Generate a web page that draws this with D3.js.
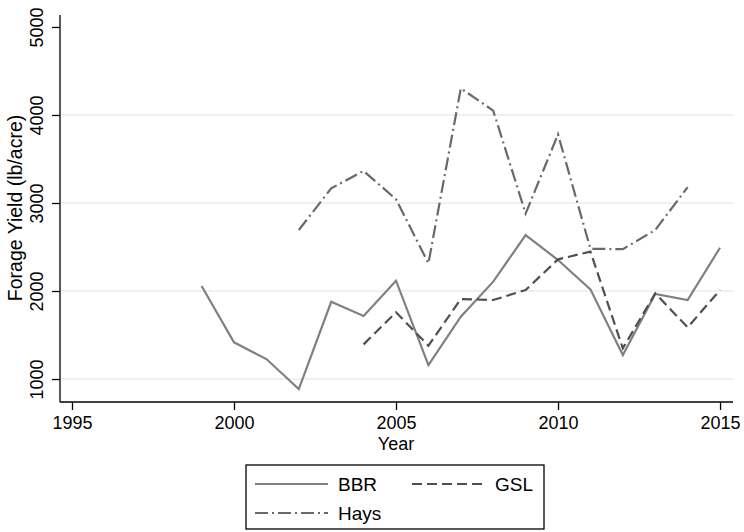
<!DOCTYPE html>
<html>
<head>
<meta charset="utf-8">
<script src="https://cdn.jsdelivr.net/npm/d3@7"></script>
<style>
  body { margin: 0; background: #fff; }
  svg { display: block; font-family: "Liberation Sans", Arial, sans-serif; }
</style>
</head>
<body>
<svg class="chart" width="744" height="532"></svg>
<script>
// Forage yield by year for three sites
const years = [1999, 2000, 2001, 2002, 2003, 2004, 2005, 2006, 2007, 2008,
               2009, 2010, 2011, 2012, 2013, 2014, 2015];
const bbr  = [2057, 1417, 1227, 886, 1878, 1716, 2117, 1159, 1708, 2106,
              2636, 2352, 2019, 1273, 1966, 1898, 2492];
const gsl  = [null, null, null, null, null, 1394, 1758, 1379, 1909, 1898,
              2011, 2360, 2447, 1349, 1973, 1587, 2011];
const hays = [null, null, null, 2693, 3167, 3364, 3042, 2315, 4303, 4050,
              2880, 3780, 2480, 2475, 2693, 3180, null];

const xTicks = [1995, 2000, 2005, 2010, 2015];
const yTicks = [1000, 2000, 3000, 4000, 5000];

const seriesInfo = [
    {name: "BBR",  values: bbr,  color: "#808080", dash: null},
    {name: "GSL",  values: gsl,  color: "#4f4f4f", dash: "10,5"},
    {name: "Hays", values: hays, color: "#696969", dash: "13,4,2,4"}
];

const svg = d3.select(".chart");

const plotLeft = 60, plotRight = 733, plotTop = 15, plotBottom = 402;

var xScale = d3.scaleLinear()
    .domain([1994.63, 2015.4])
    .range([plotLeft, plotRight]);

var yScale = d3.scaleLinear()
    .domain([739, 5136])
    .range([plotBottom, plotTop]);

/**** Grid lines ****/
svg.append("g")
    .selectAll("line")
    .data(yTicks.filter(function(d) { return d < 5000; }))
    .enter()
    .append("line")
    .attr("x1", plotLeft)
    .attr("x2", plotRight)
    .attr("y1", function(d) { return yScale(d); })
    .attr("y2", function(d) { return yScale(d); })
    .style("stroke", "#ebebeb")
    .style("stroke-width", 1.5);

/**** Lines ****/
var line = d3.line()
    .defined(function(d) { return d[1] != null; })
    .x(function(d) { return xScale(d[0]); })
    .y(function(d) { return yScale(d[1]); });

seriesInfo.forEach(function(s) {
    svg.append("path")
        .datum(years.map(function(y, i) { return [y, s.values[i]]; }))
        .attr("d", line)
        .style("fill", "none")
        .style("stroke", s.color)
        .style("stroke-width", 2.2)
        .style("stroke-dasharray", s.dash);
});

/**** Axes ****/
var yAxis = d3.axisLeft(yScale)
    .tickValues(yTicks)
    .tickSize(8)
    .tickSizeOuter(0)
    .tickFormat(d3.format("d"));

var yG = svg.append("g")
    .attr("transform", "translate(" + plotLeft + ",0)")
    .call(yAxis);

yG.select(".domain").attr("d", "M0," + plotTop + "V" + plotBottom);
yG.selectAll("text")
    .attr("x", null).attr("dy", null)
    .attr("transform", "translate(-17,0) rotate(-90)")
    .style("text-anchor", "middle")
    .style("font-size", "18px");

var xAxis = d3.axisBottom(xScale)
    .tickValues(xTicks)
    .tickSize(8)
    .tickSizeOuter(0)
    .tickFormat(d3.format("d"));

var xG = svg.append("g")
    .attr("transform", "translate(0," + plotBottom + ")")
    .call(xAxis);

xG.select(".domain").attr("d", "M" + plotLeft + ",0H" + plotRight);
xG.selectAll("text")
    .attr("y", 14)
    .style("font-size", "18px");

svg.selectAll(".domain, .tick line")
    .style("stroke", "#000")
    .style("stroke-width", 1.3);
svg.selectAll(".tick text").style("fill", "#000");

/**** Axis titles ****/
svg.append("text")
    .attr("x", 396)
    .attr("y", 450)
    .style("text-anchor", "middle")
    .style("font-size", "18px")
    .text("Year");

svg.append("text")
    .attr("transform", "translate(22,208) rotate(-90)")
    .style("text-anchor", "middle")
    .style("font-size", "19.5px")
    .text("Forage Yield (lb/acre)");

/**** Legend ****/
var legend = svg.append("g");

legend.append("rect")
    .attr("x", 246).attr("y", 465)
    .attr("width", 298).attr("height", 64)
    .style("fill", "#fff")
    .style("stroke", "#000")
    .style("stroke-width", 1.3);

var legendPos = [[255, 484], [412, 484], [255, 513]];

seriesInfo.forEach(function(s, i) {
    var p = legendPos[i];
    legend.append("line")
        .attr("x1", p[0]).attr("x2", p[0] + 73)
        .attr("y1", p[1]).attr("y2", p[1])
        .style("stroke", s.color)
        .style("stroke-width", 2.2)
        .style("stroke-dasharray", s.dash);
    legend.append("text")
        .attr("x", p[0] + 83)
        .attr("y", p[1] + 7)
        .style("font-size", "19px")
        .text(s.name);
});
</script>
</body>
</html>
